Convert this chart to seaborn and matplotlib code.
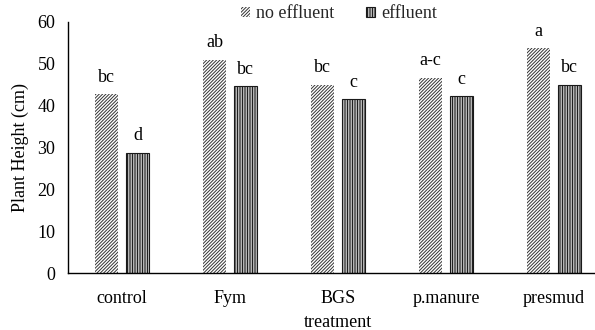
import matplotlib
matplotlib.use("Agg")
import matplotlib.pyplot as plt
from matplotlib.patches import Patch
import seaborn as sns
import pandas as pd

treatments = ["control", "Fym", "BGS", "p.manure", "presmud"]
no_effluent = [42.7, 51.0, 45.0, 46.7, 53.8]
effluent = [28.8, 44.6, 41.5, 42.3, 45.0]
letters_no = ["bc", "ab", "bc", "a-c", "a"]
letters_eff = ["d", "bc", "c", "c", "bc"]
series = ["no effluent", "effluent"]

df = pd.DataFrame({
    "treatment": treatments * 2,
    "height": no_effluent + effluent,
    "series": [series[0]] * len(treatments) + [series[1]] * len(treatments),
})

sns.set_theme(style="white")
plt.rcParams["font.family"] = ["Liberation Serif", "DejaVu Serif"]
plt.rcParams["hatch.linewidth"] = 0.7

FS = 13

fig = plt.figure(figsize=(5.95, 3.30), dpi=100)
ax = fig.add_axes([68 / 595, 57 / 330, 540 / 595, 251 / 330])

sns.barplot(data=df, x="treatment", y="height", hue="series", hue_order=series,
            order=treatments, width=0.574, gap=0.226, errorbar=None,
            palette=["white", "white"], ax=ax, legend=False)

hatches = ["//////////", "||||||||||"]
widths = [0, 0.8]
edges = ["#333333", "#1a1a1a"]
for cont, hatch, lw, ec in zip(ax.containers, hatches, widths, edges):
    for bar in cont:
        bar.set_hatch(hatch)
        bar.set_edgecolor(ec)
        bar.set_linewidth(lw)

for cont, labels in zip(ax.containers, [letters_no, letters_eff]):
    for bar, lab in zip(cont, labels):
        ax.annotate(lab, (bar.get_x() + bar.get_width() / 2, bar.get_height()),
                    xytext=(0, 6), textcoords="offset points",
                    ha="center", va="bottom", fontsize=FS, color="black")

ax.set_xlim(-0.5, 4.5)
ax.set_ylim(0, 60)
ax.set_yticks(range(0, 61, 10))
ax.tick_params(axis="y", length=0, pad=9, labelsize=FS, colors="black")
ax.tick_params(axis="x", length=0, pad=12, labelsize=FS, colors="black")
for side in ["top", "right"]:
    ax.spines[side].set_visible(False)
for side in ["left", "bottom"]:
    ax.spines[side].set_color("black")
    ax.spines[side].set_linewidth(1.0)

ax.set_ylabel("Plant Height (cm)", fontsize=FS, color="black", labelpad=6)
ax.set_xlabel("treatment", fontsize=FS, color="black", labelpad=5)

handles = [Patch(facecolor="white", edgecolor=ec, linewidth=lw, hatch=h)
           for h, lw, ec in zip(hatches, widths, edges)]
fig.legend(handles, series, loc="center", bbox_to_anchor=(339 / 595, 1 - 14 / 330),
           ncol=2, frameon=False, fontsize=FS, handlelength=0.5, handleheight=0.5,
           handletextpad=0.3, columnspacing=1.8, borderaxespad=0)

fig.savefig("out.png", dpi=100)
